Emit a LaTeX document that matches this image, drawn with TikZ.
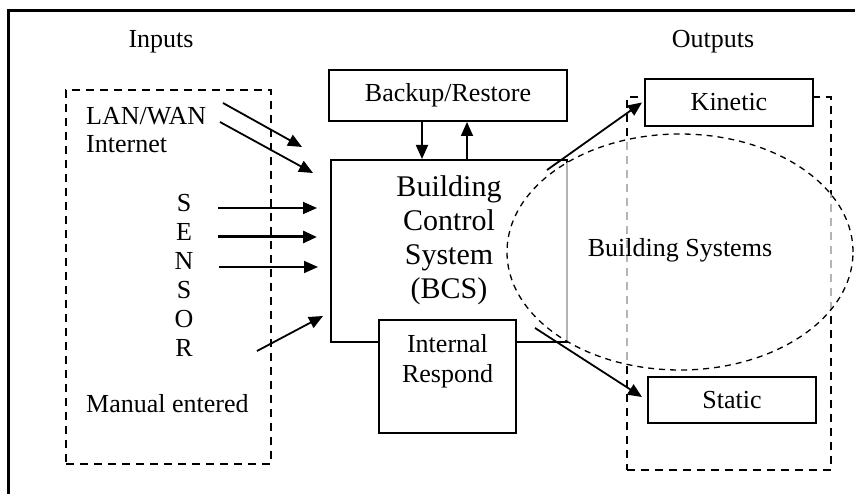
\documentclass[tikz,border=0pt]{standalone}
\usepackage{fontspec}
\setmainfont{Liberation Serif}
\usetikzlibrary{arrows.meta,calc,shapes.geometric}
\tikzset{
  sm/.style={font=\fontsize{26}{30}\selectfont, inner sep=0pt},
  bg/.style={font=\fontsize{30}{34}\selectfont, inner sep=0pt},
  box/.style={draw, line width=2pt, fill=white, inner sep=0pt, font=\fontsize{26}{30}\selectfont},
  dbox/.style={draw, line width=2pt, dash pattern=on 8pt off 6pt, inner sep=0pt},
  arr/.style={line width=1.8pt, -{Triangle[length=14pt,width=12pt]}},
  arrb/.style={line width=3pt, -{Triangle[length=14pt,width=12pt]}},
}
\begin{document}
\begin{tikzpicture}[x=1pt,y=-1pt]
\clip (0,0) rectangle (855,494);
\useasboundingbox (0,0) rectangle (855,494);
% frame
\draw[line width=3pt] (8,510) -- (8,11) -- (870,11);
% dashed groups
\node[dbox, minimum width=205pt, minimum height=374pt] (inbox) at (168.5,277) {};
\node[dbox, minimum width=204pt, minimum height=373pt] (outbox) at (729,283.5) {};
% main boxes
\node[box, minimum width=236pt, minimum height=182pt] (bcs) at (449,251) {};
\node[box, minimum width=238pt, minimum height=51pt] (backup) at (448,95.5) {Backup/Restore};
\node[box, minimum width=137pt, minimum height=113pt] (internal) at (447.5,376.5) {};
\node[box, minimum width=168pt, minimum height=47pt] (kinetic) at (729,102.5) {Kinetic};
\node[box, minimum width=168pt, minimum height=46pt] (static) at (732,400) {Static};
% ellipse
\node[draw, ellipse, line width=1.3pt, dash pattern=on 6pt off 5pt, fill=white, fill opacity=0.7, draw opacity=1, minimum width=346pt, minimum height=236pt, inner sep=0pt] (bsys) at (680,252) {};
% texts
\node[bg, align=center] (bcstext) at (449,240) {Building\\Control\\System\\(BCS)};
\node[sm, align=center] (inttext) at (447.5,361) {Internal\\Respond};
\node[sm, anchor=base] (inputs) at (161,48) {Inputs};
\node[sm, anchor=base] (outputs) at (713,48) {Outputs};
\node[sm, anchor=base west] (lan) at (86,125) {LAN/WAN};
\node[sm, anchor=base west] (inet) at (86,153) {Internet};
\node[font=\fontsize{26}{29}\selectfont, inner sep=0pt, align=center] (sensor) at (184,275) {S\\E\\N\\S\\O\\R};
\node[sm, anchor=base west] (manual) at (86,413) {Manual entered};
\node[sm, anchor=base] (bstext) at (680,257) {Building Systems};
% arrow end points
\coordinate (l1s) at (223,103); \coordinate (l1e) at (302,147);
\coordinate (l2s) at (220,122); \coordinate (l2e) at (313,173);
\coordinate (ss) at (218,208); \coordinate (se) at (317,208);
\coordinate (es) at (218,237); \coordinate (ee) at (317,237);
\coordinate (ns) at (219,267); \coordinate (ne) at (318,267);
\coordinate (rs) at (257,351); \coordinate (re) at (323,316);
\coordinate (dnx) at (422,0); \coordinate (upx) at (467,0);
\coordinate (ks) at (547,170);
\coordinate (sts) at (535,328); \coordinate (ste) at (642,397);
% arrows
\draw[arr] (l1s) -- (l1e);
\draw[arr] (l2s) -- (l2e);
\draw[arr] (ss) -- (se);
\draw[arrb] (es) -- (ee);
\draw[arr] (ns) -- (ne);
\draw[arr] (rs) -- (re);
\draw[arr] (backup.south -| dnx) -- (bcs.north -| dnx);
\draw[arr] (bcs.north -| upx) -- (backup.south -| upx);
\draw[arr] (ks) -- ([xshift=-2pt]kinetic.west);
\draw[arr] (sts) -- (ste);
\end{tikzpicture}
\end{document}
